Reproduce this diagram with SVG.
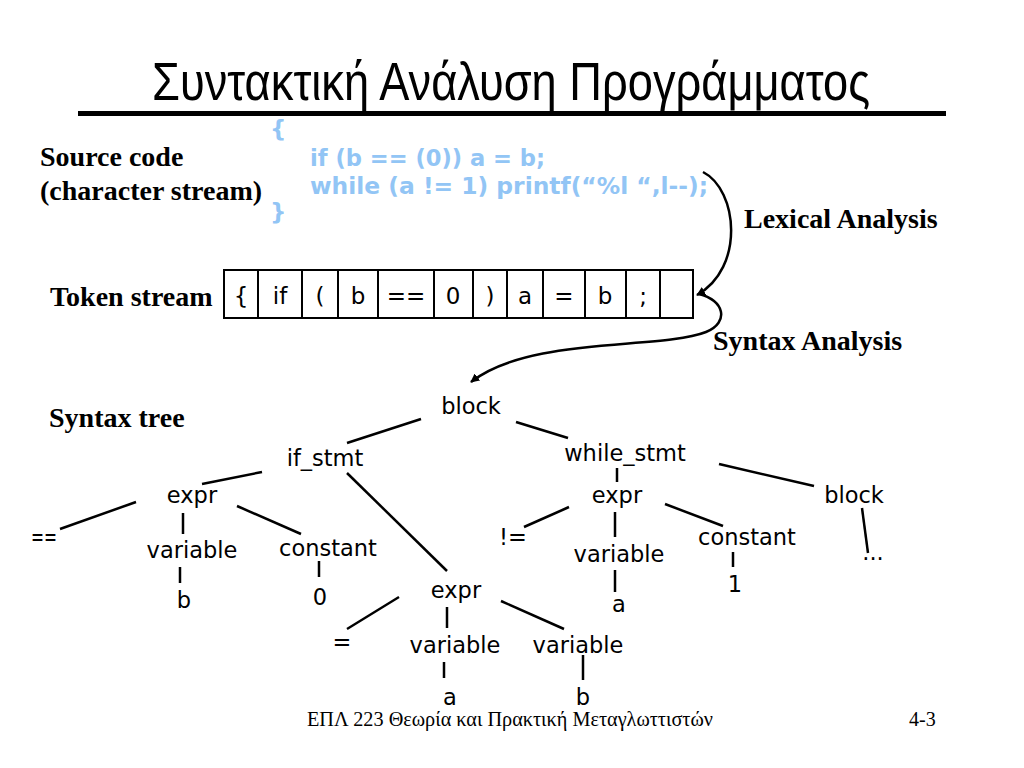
<svg xmlns="http://www.w3.org/2000/svg" width="1024" height="768" viewBox="0 0 1024 768">
<defs>
<marker id="ah" viewBox="0 0 10 10" refX="9" refY="5" markerWidth="9" markerHeight="9" markerUnits="userSpaceOnUse" orient="auto">
<path d="M0,0 L10,5 L0,10 z" fill="#000"/>
</marker>
</defs>
<style>
.lbl{font-family:"Liberation Serif","Times New Roman",serif;font-weight:bold;font-size:28px;fill:#000}
.code{font-family:"DejaVu Sans",Verdana,sans-serif;font-weight:bold;font-size:23px;fill:#92c5f5}
.t{font-family:"DejaVu Sans",Verdana,sans-serif;font-size:22.5px;fill:#000;text-anchor:middle}
.tok{font-family:"DejaVu Sans",Verdana,sans-serif;font-size:23px;fill:#000;text-anchor:middle}
.cell{fill:#fff;stroke:#000;stroke-width:2}
.e{stroke:#000;stroke-width:2.5;fill:none}
.arr{stroke:#000;stroke-width:2.5;fill:none;marker-end:url(#ah)}
</style>
<rect width="1024" height="768" fill="#fff"/>
<g id="title">
<text x="152" y="100" font-family="'Liberation Sans Narrow','Liberation Sans',Arial,sans-serif" font-size="53" textLength="718" lengthAdjust="spacingAndGlyphs">Συντακτική Ανάλυση Προγράμματος</text>
<rect x="78" y="111" width="868" height="5" fill="#000"/>
</g>
<g id="labels">
<text class="lbl" x="40" y="166">Source code</text>
<text class="lbl" x="40" y="200">(character stream)</text>
<text class="lbl" x="744" y="228">Lexical Analysis</text>
<text class="lbl" x="50" y="306">Token stream</text>
<text class="lbl" x="713" y="350">Syntax Analysis</text>
<text class="lbl" x="49" y="427">Syntax tree</text>
</g>
<g id="source-code">
<text class="code" x="270" y="137">{</text>
<text class="code" x="310" y="166" textLength="235" lengthAdjust="spacingAndGlyphs">if (b == (0)) a = b;</text>
<text class="code" x="310" y="194" textLength="398" lengthAdjust="spacingAndGlyphs">while (a != 1) printf(“%l “,l--);</text>
<text class="code" x="270" y="220">}</text>
</g>
<g id="token-stream">
<rect class="cell" x="224" y="270" width="34" height="48"/>
<rect class="cell" x="258" y="270" width="44" height="48"/>
<rect class="cell" x="302" y="270" width="36" height="48"/>
<rect class="cell" x="338" y="270" width="40" height="48"/>
<rect class="cell" x="378" y="270" width="56" height="48"/>
<rect class="cell" x="434" y="270" width="39" height="48"/>
<rect class="cell" x="473" y="270" width="34" height="48"/>
<rect class="cell" x="507" y="270" width="36" height="48"/>
<rect class="cell" x="543" y="270" width="42" height="48"/>
<rect class="cell" x="585" y="270" width="41" height="48"/>
<rect class="cell" x="626" y="270" width="34" height="48"/>
<rect class="cell" x="660" y="270" width="33" height="48"/>
<text class="tok" x="241" y="304">{</text>
<text class="tok" x="280" y="304">if</text>
<text class="tok" x="320" y="304">(</text>
<text class="tok" x="358" y="304">b</text>
<text class="tok" x="406" y="304">==</text>
<text class="tok" x="453" y="304">0</text>
<text class="tok" x="490" y="304">)</text>
<text class="tok" x="525" y="304">a</text>
<text class="tok" x="564" y="304">=</text>
<text class="tok" x="605" y="304">b</text>
<text class="tok" x="643" y="304">;</text>
</g>
<g id="connectors">
<path class="arr" d="M703,172 C738,190 745,268 697,295"/>
<path class="arr" d="M699,294 C724,300 730,322 706,332 C660,350 530,336 471,382"/>
<line class="e" x1="421" y1="419" x2="347" y2="443"/>
<line class="e" x1="516" y1="422" x2="568" y2="438"/>
<line class="e" x1="262" y1="472" x2="202" y2="484"/>
<line class="e" x1="136" y1="502" x2="60" y2="529"/>
<line class="e" x1="183" y1="513" x2="183" y2="534"/>
<line class="e" x1="237" y1="506" x2="301" y2="534"/>
<line class="e" x1="180" y1="567" x2="180" y2="583"/>
<line class="e" x1="319" y1="561" x2="319" y2="577"/>
<line class="e" x1="347" y1="473" x2="447" y2="571"/>
<line class="e" x1="399" y1="597" x2="347" y2="629"/>
<line class="e" x1="447" y1="607" x2="447" y2="628"/>
<line class="e" x1="501" y1="601" x2="564" y2="629"/>
<line class="e" x1="444" y1="662" x2="444" y2="678"/>
<line class="e" x1="583" y1="655" x2="583" y2="680"/>
<line class="e" x1="617" y1="468" x2="617" y2="482"/>
<line class="e" x1="719" y1="464" x2="814" y2="486"/>
<line class="e" x1="569" y1="507" x2="524" y2="527"/>
<line class="e" x1="615" y1="512" x2="615" y2="537"/>
<line class="e" x1="665" y1="504" x2="723" y2="526"/>
<line class="e" x1="615" y1="570" x2="615" y2="592"/>
<line class="e" x1="733" y1="552" x2="733" y2="567"/>
<line class="e" x1="862" y1="508" x2="868" y2="553"/>
</g>
<g id="n-block"><text class="t" x="471" y="414">block</text></g>
<g id="n-if_stmt"><text class="t" x="325" y="466">if_stmt</text></g>
<g id="n-while_stmt"><text class="t" x="625" y="461">while_stmt</text></g>
<g id="n-expr1"><text class="t" x="192" y="503">expr</text></g>
<g id="n-eqeq"><text class="t" x="44" y="545" textLength="26" lengthAdjust="spacingAndGlyphs">==</text></g>
<g id="n-variable1"><text class="t" x="192" y="558">variable</text></g>
<g id="n-constant1"><text class="t" x="328" y="556">constant</text></g>
<g id="n-b1"><text class="t" x="184" y="608">b</text></g>
<g id="n-zero"><text class="t" x="320" y="605">0</text></g>
<g id="n-expr2"><text class="t" x="456" y="598">expr</text></g>
<g id="n-assign"><text class="t" x="342" y="650">=</text></g>
<g id="n-variable2"><text class="t" x="455" y="653">variable</text></g>
<g id="n-variable3"><text class="t" x="578" y="653">variable</text></g>
<g id="n-a1"><text class="t" x="450" y="705">a</text></g>
<g id="n-b2"><text class="t" x="583" y="705">b</text></g>
<g id="n-expr3"><text class="t" x="617" y="503">expr</text></g>
<g id="n-neq"><text class="t" x="513" y="545">!=</text></g>
<g id="n-variable4"><text class="t" x="619" y="562">variable</text></g>
<g id="n-constant2"><text class="t" x="747" y="545">constant</text></g>
<g id="n-a2"><text class="t" x="619" y="612">a</text></g>
<g id="n-one"><text class="t" x="735" y="592">1</text></g>
<g id="n-block2"><text class="t" x="854" y="503">block</text></g>
<g id="n-dots"><text class="t" x="873" y="560">...</text></g>
<g id="footer">
<text x="307" y="726" font-family="'Liberation Serif','Times New Roman',serif" font-size="20" textLength="406" lengthAdjust="spacingAndGlyphs">ΕΠΛ 223 Θεωρία και Πρακτική Μεταγλωττιστών</text>
<text x="909" y="726" font-family="'Liberation Serif','Times New Roman',serif" font-size="20">4-3</text>
</g>
</svg>
